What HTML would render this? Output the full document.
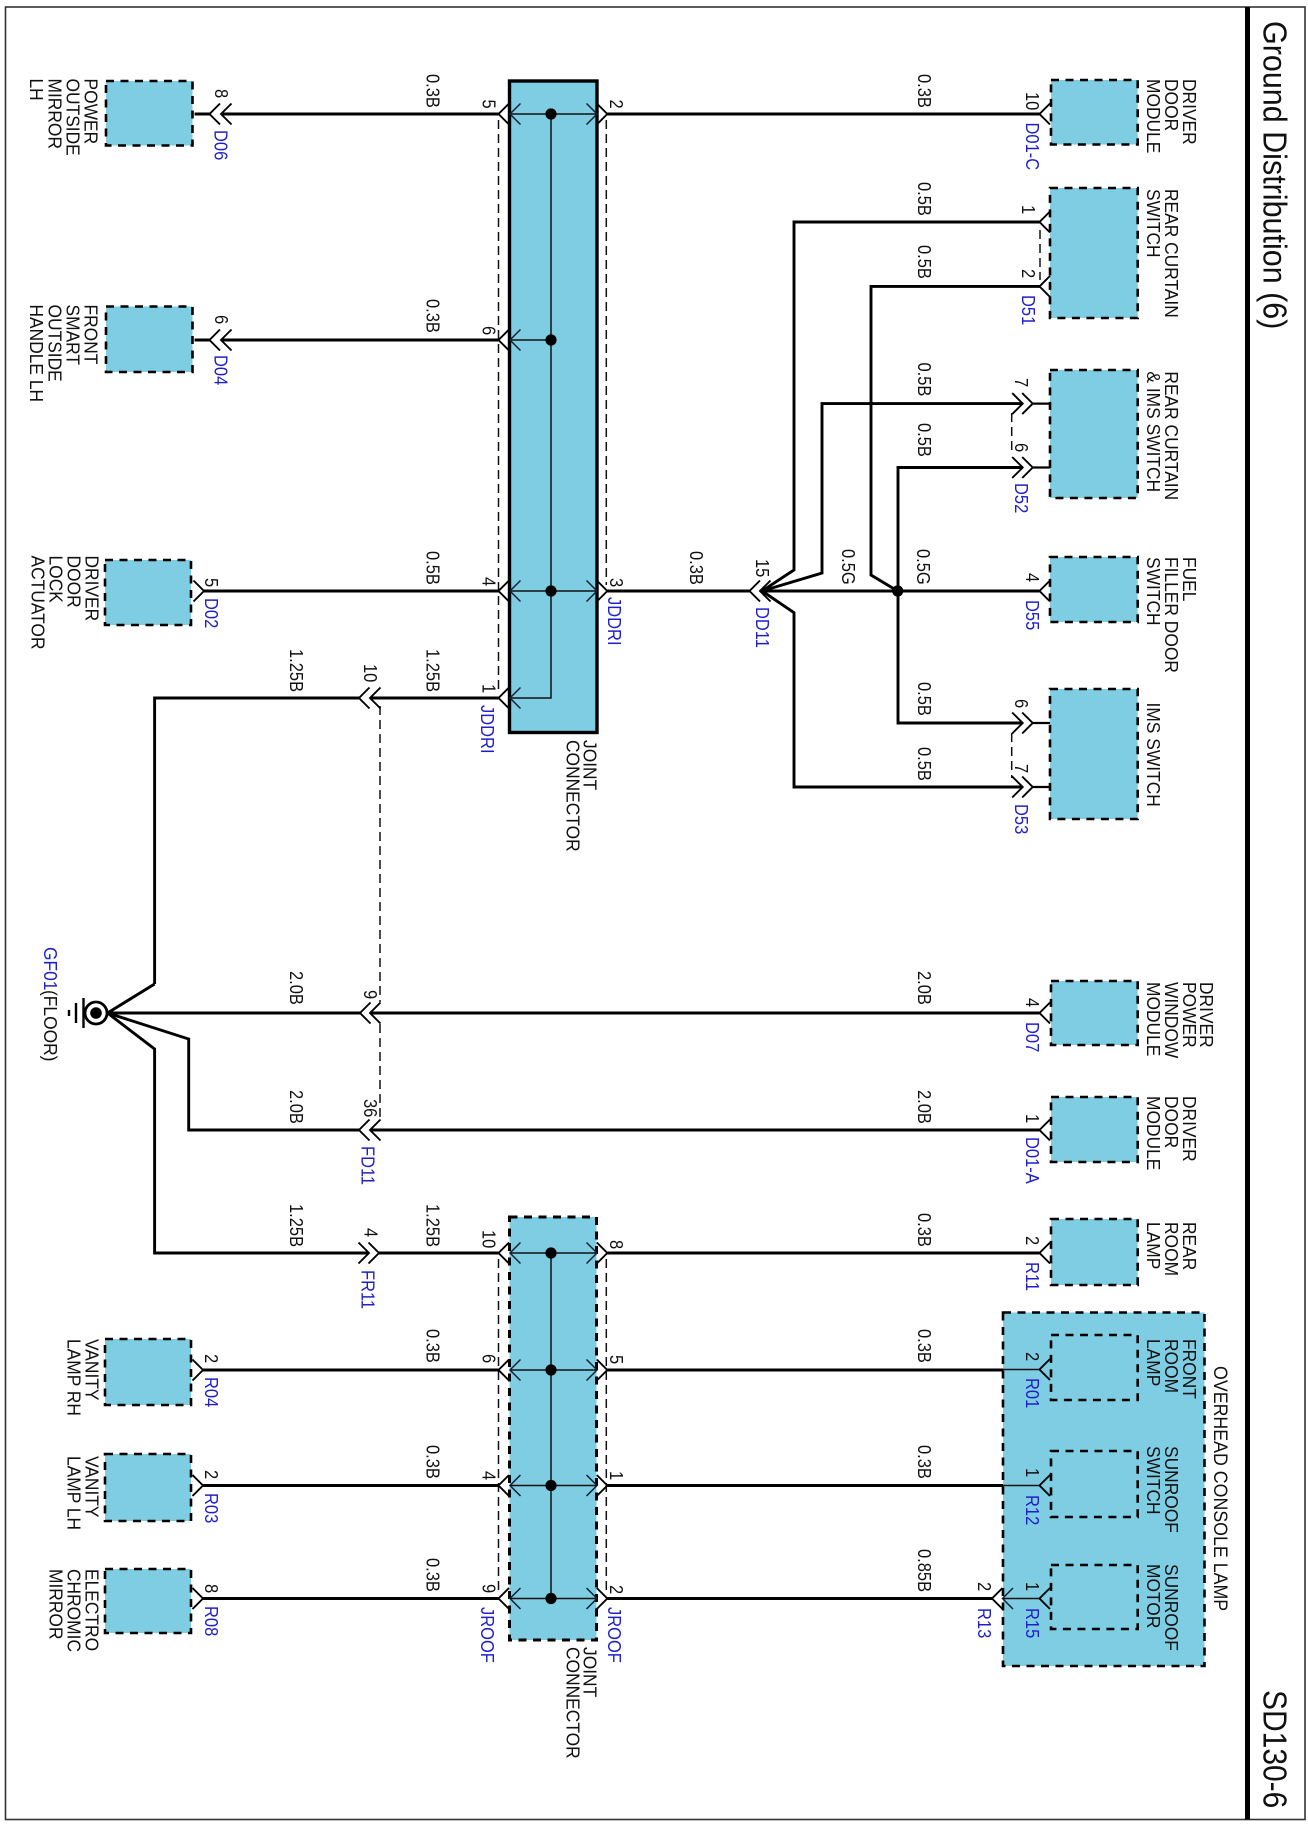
<!DOCTYPE html>
<html><head><meta charset="utf-8"><title>Ground Distribution (6)</title>
<style>
html,body{margin:0;padding:0;background:#fff}
svg{display:block}
text{font-family:"Liberation Sans",Arial,sans-serif;fill:#111}
.n{font-size:17.4px}
.s{font-size:16.5px}
.b{fill:#2020c8}
.t{font-size:30.5px}
.w{fill:none;stroke:#000;stroke-width:2.9}
.f{fill:none;stroke:#111;stroke-width:1.5}
.d{fill:none;stroke:#111;stroke-width:1.5;stroke-dasharray:9 5}
.box{fill:#7ecde3;stroke:#000;stroke-width:2.6;stroke-dasharray:8 6.5}
.ib{fill:none;stroke:#000;stroke-width:2.6;stroke-dasharray:8 6.5}
</style></head><body>
<svg xmlns="http://www.w3.org/2000/svg" width="1308" height="1824" viewBox="0 0 1308 1824">
<defs>
<path id="l" d="M10.5 -10.5L0 0L10.5 10.5" fill="none" stroke="#000" stroke-width="1.9"/>
<path id="r" d="M-10.5 -10.5L0 0L-10.5 10.5" fill="none" stroke="#000" stroke-width="1.9"/>
<path id="il" d="M10.5 -10.5L0 0L10.5 10.5" fill="none" stroke="#123" stroke-width="1.5"/>
<path id="ir" d="M-10.5 -10.5L0 0L-10.5 10.5" fill="none" stroke="#123" stroke-width="1.5"/>
</defs>
<rect x="5.5" y="7" width="1299.5" height="1812.5" fill="#fff" stroke="#333" stroke-width="1.6"/>
<rect x="1245" y="7" width="5" height="1812.5" fill="#000"/>

<!-- boxes -->
<rect x="509.5" y="81" width="87.5" height="651.5" fill="#7ecde3" stroke="#000" stroke-width="3.4"/>
<rect class="box" x="509.5" y="1217" width="87" height="423" style="stroke-width:3"/>
<rect class="box" x="106" y="81" width="86.5" height="64.5"/>
<rect class="box" x="106" y="306.5" width="86.5" height="65.5"/>
<rect class="box" x="105" y="560" width="86" height="65"/>
<rect class="box" x="105" y="1339" width="86" height="66"/>
<rect class="box" x="105" y="1454" width="86" height="67"/>
<rect class="box" x="105" y="1569" width="86" height="64"/>
<rect class="box" x="1051" y="80" width="86.7" height="64.5"/>
<rect class="box" x="1050" y="188" width="87.7" height="130"/>
<rect class="box" x="1050" y="370" width="87.7" height="128"/>
<rect class="box" x="1050" y="557" width="87.7" height="65"/>
<rect class="box" x="1050" y="689" width="87.7" height="130"/>
<rect class="box" x="1051" y="981" width="86.7" height="64"/>
<rect class="box" x="1051" y="1097" width="86.7" height="65"/>
<rect class="box" x="1051" y="1219" width="86.7" height="66"/>
<rect class="box" x="1003" y="1312.5" width="201.5" height="353.5"/>
<rect class="ib" x="1051" y="1335" width="86.7" height="65"/>
<rect class="ib" x="1051" y="1451" width="86.7" height="66"/>
<rect class="ib" x="1051" y="1565" width="86.7" height="64"/>

<!-- dashed shield lines -->
<path class="d" d="M498.5 120V692M606.3 120V585M498.5 1259V1593M606.3 1259V1593M380 706V1002M380 1024V1118M1040 230V280M1011.7 413V455M1011.7 733V778"/>

<!-- thick wires -->
<path class="w" d="M194.6 114H209.5M221 114H498.5M607.3 114H1039.5
M194.6 340H209.5M221 340H498.5
M204 591H498.5M607.3 591H749.5M760 591H1039.5
M370 698H498.5M154.6 984V698H359
M107.5 1013L154.6 984M107.5 1013H360M370 1013H1039.5
M107.5 1013L188.7 1039V1130H359M370 1130H1039.5
M107.5 1013L154.6 1049V1253H369M379 1253H498.5M607.3 1253H1039.5
M203 1370H498.5M607.3 1370H1003
M203 1485.5H498.5M607.3 1485.5H1003
M203 1598.5H498.5M607.3 1598.5H992
M1039.5 222H794V570L762 591
M1039.5 286.4H871V575L897.7 591
M1022.7 403.6H822V573L762 591
M1022.7 467.5H898V723H1022.7
M1022.7 787H794V612.7L762 591"/>
<path d="M1032.7 403.6H1050M1032.7 467.5H1050M1032.7 723H1050M1032.7 787H1050" fill="none" stroke="#000" stroke-width="2.2"/>

<!-- thin wires inside joint connectors -->
<path class="f" d="M510 114H597M510 340H551M510 591H597M510 698H551V114
M510 1253H597M510 1370H597M510 1485.5H597M510 1598.5H597M551 1253V1598.5
M1003 1369.5H1039.5M1003 1485.5H1039.5M1002.5 1598.5H1039.5"/>

<!-- chevrons -->
<g>
<use href="#l" x="209.5" y="114"/><use href="#l" x="221" y="114"/>
<use href="#l" x="209.5" y="340"/><use href="#l" x="221" y="340"/>
<use href="#r" x="204" y="591"/>
<use href="#l" x="498.5" y="114"/><use href="#r" x="607.3" y="114"/>
<use href="#l" x="498.5" y="340"/>
<use href="#l" x="498.5" y="591"/><use href="#r" x="607.3" y="591"/>
<use href="#l" x="498.5" y="698"/>
<use href="#l" x="359" y="698"/><use href="#l" x="370" y="698"/>
<use href="#l" x="749.5" y="591"/><use href="#l" x="760" y="591"/>
<use href="#l" x="1039.5" y="114"/><use href="#l" x="1039.5" y="222"/><use href="#l" x="1039.5" y="286.4"/>
<use href="#l" x="1039.5" y="591"/><use href="#l" x="1039.5" y="1013"/><use href="#l" x="1039.5" y="1130"/>
<use href="#l" x="1039.5" y="1253"/><use href="#l" x="1039.5" y="1369.5"/><use href="#l" x="1039.5" y="1485.5"/><use href="#l" x="1039.5" y="1598.5"/>
<use href="#r" x="1022.7" y="403.6"/><use href="#r" x="1032.7" y="403.6"/>
<use href="#r" x="1022.7" y="467.5"/><use href="#r" x="1032.7" y="467.5"/>
<use href="#r" x="1022.7" y="723"/><use href="#r" x="1032.7" y="723"/>
<use href="#r" x="1022.7" y="787"/><use href="#r" x="1032.7" y="787"/>
<use href="#l" x="360" y="1013"/><use href="#l" x="370" y="1013"/>
<use href="#l" x="359" y="1130"/><use href="#l" x="370" y="1130"/>
<use href="#r" x="369" y="1253"/><use href="#r" x="379" y="1253"/>
<use href="#l" x="498.5" y="1253"/><use href="#r" x="607.3" y="1253"/>
<use href="#l" x="498.5" y="1370"/><use href="#r" x="607.3" y="1370"/>
<use href="#l" x="498.5" y="1485.5"/><use href="#r" x="607.3" y="1485.5"/>
<use href="#l" x="498.5" y="1598.5"/><use href="#r" x="607.3" y="1598.5"/>
<use href="#r" x="203" y="1370"/><use href="#r" x="203" y="1485.5"/><use href="#r" x="203" y="1598.5"/>
<use href="#l" x="992" y="1598.5"/>
<use href="#il" x="510" y="114"/><use href="#ir" x="597" y="114"/>
<use href="#il" x="510" y="340"/>
<use href="#il" x="510" y="591"/><use href="#ir" x="597" y="591"/>
<use href="#il" x="510" y="698"/>
<use href="#il" x="510" y="1253"/><use href="#ir" x="597" y="1253"/>
<use href="#il" x="510" y="1370"/><use href="#ir" x="597" y="1370"/>
<use href="#il" x="510" y="1485.5"/><use href="#ir" x="597" y="1485.5"/>
<use href="#il" x="510" y="1598.5"/><use href="#ir" x="597" y="1598.5"/>
<use href="#il" x="1002.5" y="1598.5"/>
</g>

<!-- dots -->
<g fill="#000">
<circle cx="551" cy="114" r="5.6"/><circle cx="551" cy="340" r="5.6"/><circle cx="551" cy="591" r="5.6"/>
<circle cx="551" cy="1253" r="5.6"/><circle cx="551" cy="1370" r="5.6"/><circle cx="551" cy="1485.5" r="5.6"/><circle cx="551" cy="1598.5" r="5.6"/>
<circle cx="897.7" cy="591" r="5.6"/>
</g>

<!-- ground symbol -->
<circle cx="96" cy="1013" r="11" fill="#fff" stroke="#000" stroke-width="2.8"/>
<circle cx="96" cy="1013" r="5.8" fill="#000"/>
<path d="M83.5 998V1028M76 1003V1023M69 1010V1016" stroke="#000" stroke-width="2.4" fill="none"/>

<!-- title -->
<text class="t" transform="matrix(0 1 -1.1 0 1263.5 21)">Ground Distribution (6)</text>
<text class="t" style="font-size:30px" transform="matrix(0 1 -1.1 0 1263.5 1690)">SD130-6</text>

<!-- component names -->
<g class="n">
<text transform="matrix(0 1 -1.08 0 84.6 78.5)">POWER</text>
<text transform="matrix(0 1 -1.08 0 66.6 78.5)">OUTSIDE</text>
<text transform="matrix(0 1 -1.08 0 48.6 78.5)">MIRROR</text>
<text transform="matrix(0 1 -1.08 0 30.2 78.5)">LH</text>
<text transform="matrix(0 1 -1.08 0 84.6 304.5)">FRONT</text>
<text transform="matrix(0 1 -1.08 0 66.6 304.5)">SMART</text>
<text transform="matrix(0 1 -1.08 0 48.6 304.5)">OUTSIDE</text>
<text transform="matrix(0 1 -1.08 0 30.2 304.5)">HANDLE LH</text>
<text transform="matrix(0 1 -1.08 0 85.4 555.5)">DRIVER</text>
<text transform="matrix(0 1 -1.08 0 67.4 555.5)">DOOR</text>
<text transform="matrix(0 1 -1.08 0 49.4 555.5)">LOCK</text>
<text transform="matrix(0 1 -1.08 0 31.4 555.5)">ACTUATOR</text>
<text transform="matrix(0 1 -1.08 0 85.4 1339)">VANITY</text>
<text transform="matrix(0 1 -1.08 0 67.4 1339)">LAMP RH</text>
<text transform="matrix(0 1 -1.08 0 85.4 1456)">VANITY</text>
<text transform="matrix(0 1 -1.08 0 67.4 1456)">LAMP LH</text>
<text transform="matrix(0 1 -1.08 0 85.4 1569)">ELECTRO</text>
<text transform="matrix(0 1 -1.08 0 67.4 1569)">CHROMIC</text>
<text transform="matrix(0 1 -1.08 0 49.4 1569)">MIRROR</text>
<text transform="matrix(0 1 -1.08 0 583.5 740)">JOINT</text>
<text transform="matrix(0 1 -1.08 0 566.5 740)">CONNECTOR</text>
<text transform="matrix(0 1 -1.08 0 583.5 1647)">JOINT</text>
<text transform="matrix(0 1 -1.08 0 566.5 1647)">CONNECTOR</text>
<text transform="matrix(0 1 -1.08 0 1183 79)">DRIVER</text>
<text transform="matrix(0 1 -1.08 0 1165 79)">DOOR</text>
<text transform="matrix(0 1 -1.08 0 1147 79)">MODULE</text>
<text transform="matrix(0 1 -1.08 0 1165 189)">REAR CURTAIN</text>
<text transform="matrix(0 1 -1.08 0 1147 189)">SWITCH</text>
<text transform="matrix(0 1 -1.08 0 1165 371.4)">REAR CURTAIN</text>
<text transform="matrix(0 1 -1.08 0 1147 371.4)">&amp; IMS SWITCH</text>
<text transform="matrix(0 1 -1.08 0 1183 557)">FUEL</text>
<text transform="matrix(0 1 -1.08 0 1165 557)">FILLER DOOR</text>
<text transform="matrix(0 1 -1.08 0 1147 557)">SWITCH</text>
<text transform="matrix(0 1 -1.08 0 1147 702.5)">IMS SWITCH</text>
<text transform="matrix(0 1 -1.08 0 1200 982)">DRIVER</text>
<text transform="matrix(0 1 -1.08 0 1183 982)">POWER</text>
<text transform="matrix(0 1 -1.08 0 1165 982)">WINDOW</text>
<text transform="matrix(0 1 -1.08 0 1147 982)">MODULE</text>
<text transform="matrix(0 1 -1.08 0 1183 1096)">DRIVER</text>
<text transform="matrix(0 1 -1.08 0 1165 1096)">DOOR</text>
<text transform="matrix(0 1 -1.08 0 1147 1096)">MODULE</text>
<text transform="matrix(0 1 -1.08 0 1183 1222)">REAR</text>
<text transform="matrix(0 1 -1.08 0 1165 1222)">ROOM</text>
<text transform="matrix(0 1 -1.08 0 1147 1222)">LAMP</text>
<text transform="matrix(0 1 -1.08 0 1183 1339)">FRONT</text>
<text transform="matrix(0 1 -1.08 0 1165 1339)">ROOM</text>
<text transform="matrix(0 1 -1.08 0 1147 1339)">LAMP</text>
<text transform="matrix(0 1 -1.08 0 1165 1446)">SUNROOF</text>
<text transform="matrix(0 1 -1.08 0 1147 1446)">SWITCH</text>
<text transform="matrix(0 1 -1.08 0 1165 1564)">SUNROOF</text>
<text transform="matrix(0 1 -1.08 0 1147 1564)">MOTOR</text>
<text transform="matrix(0 1 -1.08 0 1214 1366)" style="font-size:17.8px">OVERHEAD CONSOLE LAMP</text>
<text transform="matrix(0 1 -1.08 0 44 990)">(FLOOR)</text>
<text class="b" transform="matrix(0 1 -1.08 0 44 947)">GF01</text>
</g>

<!-- wire sizes -->
<g class="s">
<text transform="matrix(0 1 -1.12 0 426.5 74)">0.3B</text>
<text transform="matrix(0 1 -1.12 0 426.5 299)">0.3B</text>
<text transform="matrix(0 1 -1.12 0 426.5 551)">0.5B</text>
<text transform="matrix(0 1 -1.12 0 426.5 649)">1.25B</text>
<text transform="matrix(0 1 -1.12 0 290 649)">1.25B</text>
<text transform="matrix(0 1 -1.12 0 290 971)">2.0B</text>
<text transform="matrix(0 1 -1.12 0 290 1090)">2.0B</text>
<text transform="matrix(0 1 -1.12 0 290 1204)">1.25B</text>
<text transform="matrix(0 1 -1.12 0 426.5 1204)">1.25B</text>
<text transform="matrix(0 1 -1.12 0 426.5 1329)">0.3B</text>
<text transform="matrix(0 1 -1.12 0 426.5 1445)">0.3B</text>
<text transform="matrix(0 1 -1.12 0 426.5 1558)">0.3B</text>
<text transform="matrix(0 1 -1.12 0 918 74)">0.3B</text>
<text transform="matrix(0 1 -1.12 0 918 182)">0.5B</text>
<text transform="matrix(0 1 -1.12 0 918 245)">0.5B</text>
<text transform="matrix(0 1 -1.12 0 918 362.5)">0.5B</text>
<text transform="matrix(0 1 -1.12 0 918 423)">0.5B</text>
<text transform="matrix(0 1 -1.12 0 917 549)">0.5G</text>
<text transform="matrix(0 1 -1.12 0 842 549)">0.5G</text>
<text transform="matrix(0 1 -1.12 0 690 551)">0.3B</text>
<text transform="matrix(0 1 -1.12 0 918 682)">0.5B</text>
<text transform="matrix(0 1 -1.12 0 918 747)">0.5B</text>
<text transform="matrix(0 1 -1.12 0 918 971)">2.0B</text>
<text transform="matrix(0 1 -1.12 0 918 1090)">2.0B</text>
<text transform="matrix(0 1 -1.12 0 918 1213)">0.3B</text>
<text transform="matrix(0 1 -1.12 0 918 1329)">0.3B</text>
<text transform="matrix(0 1 -1.12 0 918 1445)">0.3B</text>
<text transform="matrix(0 1 -1.12 0 918 1549)">0.85B</text>

<!-- pin numbers -->
<text transform="matrix(0 1 -1.12 0 215 89)">8</text>
<text transform="matrix(0 1 -1.12 0 215 315)">6</text>
<text transform="matrix(0 1 -1.12 0 205 578)">5</text>
<text transform="matrix(0 1 -1.12 0 205 1354)">2</text>
<text transform="matrix(0 1 -1.12 0 205 1470)">2</text>
<text transform="matrix(0 1 -1.12 0 205 1584)">8</text>
<text transform="matrix(0 1 -1.12 0 482.5 99.5)">5</text>
<text transform="matrix(0 1 -1.12 0 482.5 326)">6</text>
<text transform="matrix(0 1 -1.12 0 482.5 577)">4</text>
<text transform="matrix(0 1 -1.12 0 482.5 684)">1</text>
<text transform="matrix(0 1 -1.12 0 610 99.5)">2</text>
<text transform="matrix(0 1 -1.12 0 610 578)">3</text>
<text transform="matrix(0 1 -1.12 0 364 664)">10</text>
<text transform="matrix(0 1 -1.12 0 364 990)">9</text>
<text transform="matrix(0 1 -1.12 0 364 1099)">36</text>
<text transform="matrix(0 1 -1.12 0 364.6 1228)">4</text>
<text transform="matrix(0 1 -1.12 0 482.5 1230)">10</text>
<text transform="matrix(0 1 -1.12 0 482.5 1354)">6</text>
<text transform="matrix(0 1 -1.12 0 482.5 1471)">4</text>
<text transform="matrix(0 1 -1.12 0 482.5 1584)">9</text>
<text transform="matrix(0 1 -1.12 0 610 1240)">8</text>
<text transform="matrix(0 1 -1.12 0 610 1355)">5</text>
<text transform="matrix(0 1 -1.12 0 610 1471)">1</text>
<text transform="matrix(0 1 -1.12 0 610 1585)">2</text>
<text transform="matrix(0 1 -1.12 0 756 559)">15</text>
<text transform="matrix(0 1 -1.12 0 1026 92)">10</text>
<text transform="matrix(0 1 -1.12 0 1022 205)">1</text>
<text transform="matrix(0 1 -1.12 0 1022 269)">2</text>
<text transform="matrix(0 1 -1.12 0 1015 378)">7</text>
<text transform="matrix(0 1 -1.12 0 1015 443)">6</text>
<text transform="matrix(0 1 -1.12 0 1026 573)">4</text>
<text transform="matrix(0 1 -1.12 0 1015 699)">6</text>
<text transform="matrix(0 1 -1.12 0 1015 764)">7</text>
<text transform="matrix(0 1 -1.12 0 1026 998)">4</text>
<text transform="matrix(0 1 -1.12 0 1026 1114)">1</text>
<text transform="matrix(0 1 -1.12 0 1026 1236)">2</text>
<text transform="matrix(0 1 -1.12 0 1026 1352)">2</text>
<text transform="matrix(0 1 -1.12 0 1026 1468)">1</text>
<text transform="matrix(0 1 -1.12 0 1026 1582)">1</text>
<text transform="matrix(0 1 -1.12 0 978 1582)">2</text>

<!-- connector codes -->
<g>
<text class="b" transform="matrix(0 1 -1.12 0 214.3 130)">D06</text>
<text class="b" transform="matrix(0 1 -1.12 0 214.3 355)">D04</text>
<text class="b" transform="matrix(0 1 -1.12 0 205 598)">D02</text>
<text class="b" transform="matrix(0 1 -1.12 0 205 1377)">R04</text>
<text class="b" transform="matrix(0 1 -1.12 0 205 1493)">R03</text>
<text class="b" transform="matrix(0 1 -1.12 0 205 1606)">R08</text>
<text class="b" transform="matrix(0 1 -1.12 0 608 597)">JDDRI</text>
<text class="b" transform="matrix(0 1 -1.12 0 481 705)">JDDRI</text>
<text class="b" transform="matrix(0 1 -1.12 0 481 1607)">JROOF</text>
<text class="b" transform="matrix(0 1 -1.12 0 608 1607)">JROOF</text>
<text class="b" transform="matrix(0 1 -1.12 0 361.7 1146)">FD11</text>
<text class="b" transform="matrix(0 1 -1.12 0 361.7 1270)">FR11</text>
<text class="b" transform="matrix(0 1 -1.12 0 756 607)">DD11</text>
<text class="b" transform="matrix(0 1 -1.12 0 1026 122.5)">D01-C</text>
<text class="b" transform="matrix(0 1 -1.12 0 1022 295)">D51</text>
<text class="b" transform="matrix(0 1 -1.12 0 1015 483)">D52</text>
<text class="b" transform="matrix(0 1 -1.12 0 1026 600)">D55</text>
<text class="b" transform="matrix(0 1 -1.12 0 1015 804)">D53</text>
<text class="b" transform="matrix(0 1 -1.12 0 1026 1022)">D07</text>
<text class="b" transform="matrix(0 1 -1.12 0 1026 1137)">D01-A</text>
<text class="b" transform="matrix(0 1 -1.12 0 1026 1262)">R11</text>
<text class="b" transform="matrix(0 1 -1.12 0 1026 1378)">R01</text>
<text class="b" transform="matrix(0 1 -1.12 0 1026 1495)">R12</text>
<text class="b" transform="matrix(0 1 -1.12 0 1026 1608)">R15</text>
<text class="b" transform="matrix(0 1 -1.12 0 978 1608)">R13</text>
</g>
</g>
</svg>
</body></html>
